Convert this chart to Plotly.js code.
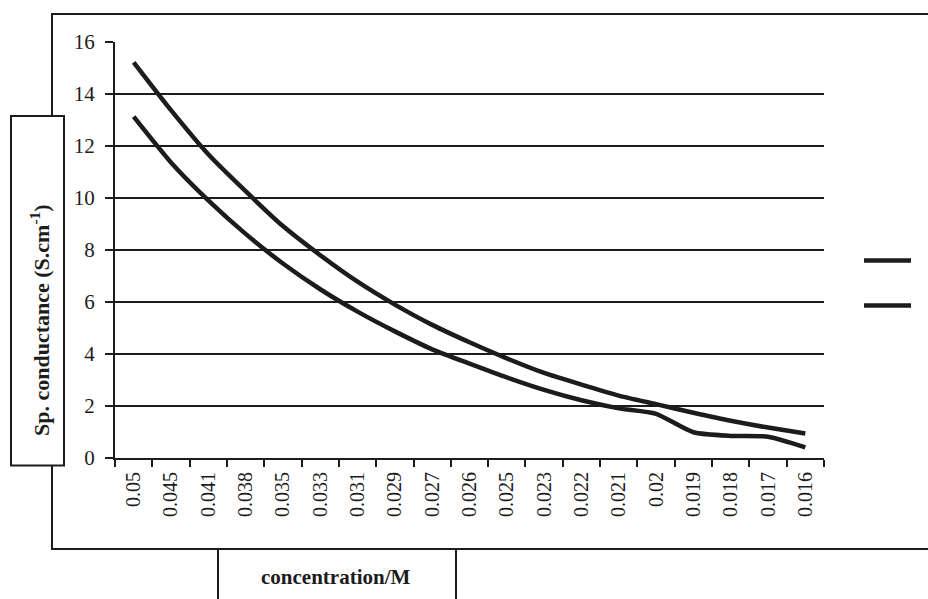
<!DOCTYPE html>
<html>
<head>
<meta charset="utf-8">
<script src="https://cdn.plot.ly/plotly-3.0.1.min.js"></script>
<style>html,body{margin:0;padding:0;background:#fff;}#chart{width:928px;height:599px;}</style>
</head>
<body>
<div id="chart"></div>
<script>
// Categories (concentration / M)
const concentrations = ["0.05","0.045","0.041","0.038","0.035","0.033","0.031","0.029","0.027","0.026","0.025","0.023","0.022","0.021","0.02","0.019","0.018","0.017","0.016"];
// Series values (specific conductance, S.cm-1)
const seriesUpper = [15.22,13.38,11.68,10.26,8.92,7.8,6.78,5.9,5.12,4.45,3.83,3.27,2.82,2.4,2.07,1.74,1.43,1.17,0.94];
const seriesLower = [13.13,11.37,9.91,8.62,7.48,6.49,5.63,4.87,4.18,3.63,3.1,2.62,2.22,1.91,1.7,0.99,0.85,0.82,0.41];
const yTickValues = [0,2,4,6,8,10,12,14,16];

const ink = '#1c1c1c';
const serif = '"Liberation Serif", "Times New Roman", serif';

// plot area in pixels
const W = 928, H = 599, L = 115, R = 824, T = 42, B = 458;
const px = x => (x - L) / (R - L);
const py = y => (B - y) / (B - T);

const traces = [
  {x: concentrations, y: seriesUpper, type: 'scatter', mode: 'lines', name: '',
   line: {color: ink, width: 4.5, shape: 'spline', smoothing: 0.6}, legendgroup: 'a'},
  {x: concentrations, y: seriesLower, type: 'scatter', mode: 'lines', name: '',
   line: {color: ink, width: 4.5, shape: 'spline', smoothing: 0.6}, legendgroup: 'b'}
];

const layout = {
  width: W, height: H,
  margin: {l: L, r: W - R, t: T, b: H - B, autoexpand: false},
  paper_bgcolor: '#fff', plot_bgcolor: '#fff',
  font: {family: serif, size: 20, color: ink},
  showlegend: true,
  legend: {xref: 'container', yref: 'container', x: 859 / W, xanchor: 'left', y: (H - 241) / H, yanchor: 'top',
           itemwidth: 47, traceorder: 'grouped', tracegroupgap: 16,
           bgcolor: 'rgba(0,0,0,0)', font: {family: serif, size: 20}},
  xaxis: {
    type: 'category', tickangle: -90, tickson: 'boundaries',
    ticks: 'outside', ticklen: 7, tickwidth: 2, tickcolor: ink,
    ticklabelstandoff: 4, automargin: false,
    showline: true, linecolor: ink, linewidth: 2,
    showgrid: false, zeroline: false,
    tickfont: {family: serif, size: 20, color: ink},
    range: [-0.5, 18.5], fixedrange: true
  },
  yaxis: {
    range: [0, 16], tickvals: yTickValues, ticks: 'outside', ticklen: 8, tickwidth: 2, tickcolor: ink,
    ticklabelstandoff: 6, automargin: false,
    showline: true, linecolor: ink, linewidth: 2,
    showgrid: true, gridcolor: ink, gridwidth: 2, zeroline: false,
    tickfont: {family: serif, size: 21, color: ink}, fixedrange: true
  },
  shapes: [
    // outer chart frame
    {type: 'rect', xref: 'paper', yref: 'paper', x0: px(52), x1: px(940), y0: py(549), y1: py(14),
     line: {color: ink, width: 2}, fillcolor: 'rgba(0,0,0,0)', layer: 'below'},
    // y-title box
    {type: 'rect', xref: 'paper', yref: 'paper', x0: px(11), x1: px(64), y0: py(465.5), y1: py(116),
     line: {color: ink, width: 2}, fillcolor: '#fff', layer: 'above'},
    // x-title box
    {type: 'rect', xref: 'paper', yref: 'paper', x0: px(218), x1: px(456), y0: py(620), y1: py(549),
     line: {color: ink, width: 2}, fillcolor: '#fff', layer: 'above'}
  ],
  annotations: [
    {xref: 'paper', yref: 'paper', x: px(40), y: py(320), showarrow: false, textangle: -90,
     text: '<b>Sp. conductance (S.cm<sup>-1</sup>)</b>', font: {family: serif, size: 22, color: ink},
     xanchor: 'center', yanchor: 'middle'},
    {xref: 'paper', yref: 'paper', x: px(335), y: py(577), showarrow: false,
     text: '<b>concentration/M</b>', font: {family: serif, size: 21, color: ink},
     xanchor: 'center', yanchor: 'middle'}
  ]
};

Plotly.newPlot('chart', traces, layout, {staticPlot: true, displayModeBar: false});
</script>
</body>
</html>
